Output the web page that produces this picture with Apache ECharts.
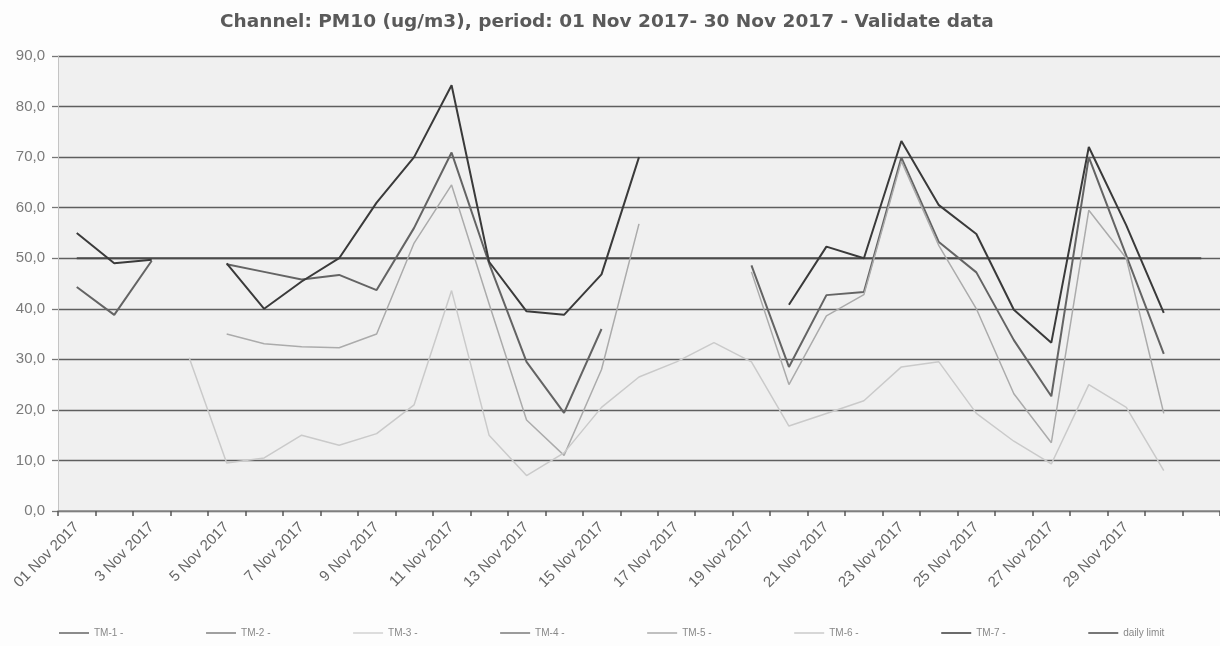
<!DOCTYPE html>
<html>
<head>
<meta charset="utf-8">
<script src="https://cdn.jsdelivr.net/npm/echarts@6/dist/echarts.min.js"></script>
<style>
html,body{margin:0;padding:0;background:#fdfdfd;}
#chart{width:1220px;height:646px;}
</style>
</head>
<body>
<div id="chart"></div>
<script>
const categories = ['01 Nov 2017','2 Nov 2017','3 Nov 2017','4 Nov 2017','5 Nov 2017','6 Nov 2017','7 Nov 2017','8 Nov 2017','9 Nov 2017','10 Nov 2017',
  '11 Nov 2017','12 Nov 2017','13 Nov 2017','14 Nov 2017','15 Nov 2017','16 Nov 2017','17 Nov 2017','18 Nov 2017','19 Nov 2017','20 Nov 2017',
  '21 Nov 2017','22 Nov 2017','23 Nov 2017','24 Nov 2017','25 Nov 2017','26 Nov 2017','27 Nov 2017','28 Nov 2017','29 Nov 2017','30 Nov 2017',''];

const tm1 = [44.3,38.8,49.5,null,48.8,47.3,45.8,46.7,43.7,56.0,70.9,49.0,29.5,19.4,36.0,null,null,null,48.6,28.5,42.7,43.3,69.9,53.2,47.2,33.8,22.7,70.0,50.5,31.1,null];
const tm2 = [null,null,null,null,null,null,null,null,null,null,null,null,null,null,null,null,null,null,null,null,null,null,null,null,null,null,null,null,null,null,null];
const tm3 = [null,null,null,null,null,null,null,null,null,null,null,null,null,null,null,null,null,null,null,null,null,null,null,null,null,null,null,null,null,null,null];
const tm4 = [null,null,null,null,null,null,null,null,null,null,null,null,null,null,null,null,null,null,null,null,null,null,null,null,null,null,null,null,null,null,null];
const tm5 = [null,null,null,null,35.0,33.1,32.5,32.3,35.0,53.0,64.5,41.0,18.0,11.0,28.0,56.8,null,null,47.3,25.0,38.6,42.8,69.2,52.5,40.0,23.2,13.5,59.5,50.0,19.3,null];
const tm6 = [null,null,null,30.3,9.5,10.5,15.0,13.0,15.3,21.0,43.6,15.0,7.0,11.5,20.5,26.5,29.5,33.3,29.5,16.8,19.3,21.8,28.5,29.5,19.3,13.8,9.3,25.0,20.5,8.0,null];
const tm7 = [55.0,49.0,49.7,null,49.0,40.0,45.4,50.0,61.0,70.0,84.2,49.3,39.5,38.8,46.8,70.0,null,null,null,40.8,52.3,50.0,73.2,60.5,54.8,39.8,33.3,72.0,56.5,39.2,null];
const dailyLimit = [50,50,50,50,50,50,50,50,50,50,50,50,50,50,50,50,50,50,50,50,50,50,50,50,50,50,50,50,50,50,50];

const yTicks = [0,10,20,30,40,50,60,70,80,90];

const seriesDefs = [
  {name:'TM-1 -', data:tm1, color:'#646464', width:2},
  {name:'TM-2 -', data:tm2, color:'#808080', width:1.5},
  {name:'TM-3 -', data:tm3, color:'#d2d2d2', width:1.5},
  {name:'TM-4 -', data:tm4, color:'#7a7a7a', width:1.5},
  {name:'TM-5 -', data:tm5, color:'#ababab', width:1.5},
  {name:'TM-6 -', data:tm6, color:'#cacaca', width:1.5},
  {name:'TM-7 -', data:tm7, color:'#3a3a3a', width:2},
  {name:'daily limit', data:dailyLimit, color:'#4a4a4a', width:2}
];

const chart = echarts.init(document.getElementById('chart'), null, {renderer:'canvas'});
chart.setOption({
  animation:false,
  backgroundColor:'#fdfdfd',
  title:{
    text:'Channel: PM10 (ug/m3), period: 01 Nov 2017- 30 Nov 2017 - Validate data',
    left:215, top:8,
    textStyle:{fontFamily:'DejaVu Sans', fontWeight:'bold', fontSize:18.5, color:'#5a5a5a'}
  },
  legend:{
    data:seriesDefs.map(s=>s.name), left:54, top:623, icon:'rect', itemWidth:30, itemHeight:1.5, itemGap:82.6,
    textStyle:{fontSize:10, color:'#888', fontFamily:'Liberation Sans'}
  },
  grid:{left:58, top:56, width:1172, height:455, show:true, backgroundColor:'#f0f0f0', borderWidth:0},
  xAxis:{
    type:'category', data:categories, boundaryGap:true,
    axisLine:{lineStyle:{color:'#8a8a8a', width:1.5}},
    axisTick:{show:true, interval:0, length:5, lineStyle:{color:'#555', width:1.5}},
    axisLabel:{interval:1, rotate:45, margin:14, fontSize:15, color:'#666', fontFamily:'Liberation Sans'},
    splitLine:{show:false}
  },
  yAxis:{
    type:'value', min:yTicks[0], max:yTicks[yTicks.length-1], interval:10,
    axisLine:{show:true, lineStyle:{color:'#c4c4c4', width:1}},
    axisTick:{show:true, length:6, lineStyle:{color:'#777', width:1.3}},
    axisLabel:{margin:13, fontSize:15, color:'#7a7a7a', fontFamily:'Liberation Sans',
      formatter:v=>v.toFixed(1).replace('.',',')},
    splitLine:{show:true, lineStyle:{color:'#5e5e5e', width:1.4}}
  },
  series: seriesDefs.map(s=>({
    name:s.name, type:'line', data:s.data, symbol:'none', connectNulls:false,
    lineStyle:{color:s.color, width:s.width}, itemStyle:{color:s.color},
    z: s.name==='daily limit'?1:2
  }))
});
</script>
</body>
</html>
